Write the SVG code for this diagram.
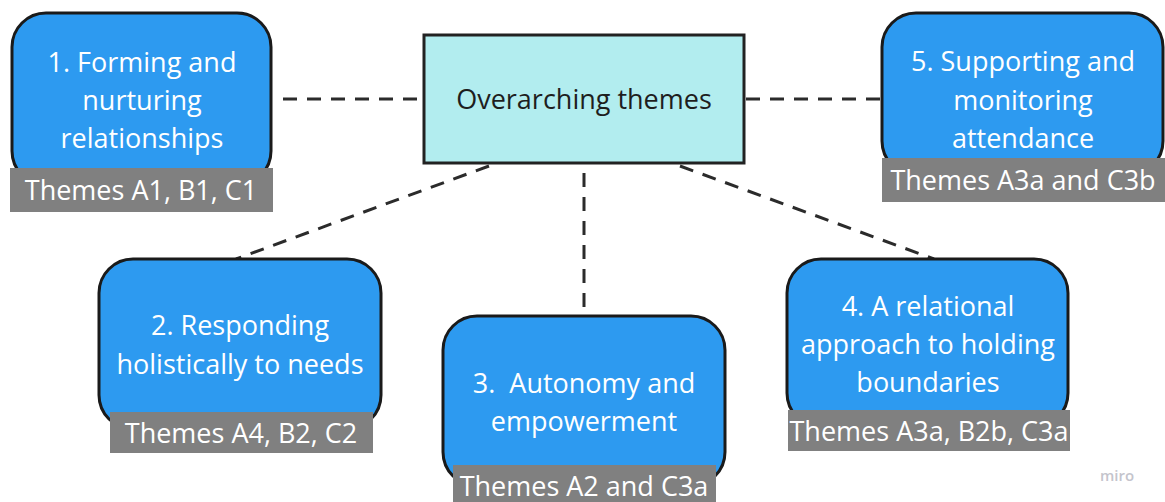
<svg xmlns="http://www.w3.org/2000/svg" width="1165" height="502" viewBox="0 0 1165 502">
  <style>
    .box { fill: #2d9af0; stroke: #1a1a1a; stroke-width: 3; }
    .hub { fill: #b2edef; stroke: #222222; stroke-width: 3; }
    .tag { fill: #808080; }
    .t { font-family: "Open Sans", "Liberation Sans", sans-serif; font-size: 27px; fill: #ffffff; text-anchor: middle; white-space: pre; }
    .hubt { font-family: "Open Sans", "Liberation Sans", sans-serif; font-size: 27px; fill: #1e1e1e; text-anchor: middle; }
    .link { stroke: #2b2b2b; stroke-width: 3; stroke-dasharray: 14 10; fill: none; }
    .mark { font-family: "Open Sans", "Liberation Sans", sans-serif; font-size: 15px; fill: #c4c4cc; font-weight: 600; }
  </style>
  <rect width="1165" height="502" fill="#ffffff"/>

  <g id="connectors">
    <line class="link" x1="283" y1="99" x2="423" y2="99"/>
    <line class="link" x1="746" y1="99" x2="882" y2="99"/>
    <line class="link" x1="489" y1="166" x2="236" y2="259"/>
    <line class="link" x1="584" y1="173" x2="584" y2="316"/>
    <line class="link" x1="680" y1="166" x2="934" y2="259"/>
  </g>

  <g id="hub">
    <rect class="hub" x="424" y="35" width="320" height="128"/>
    <text class="hubt" x="584" y="109">Overarching themes</text>
  </g>

  <g id="node1">
    <rect class="box" x="12" y="13" width="259" height="172" rx="34"/>
    <text class="t" x="142" y="72">1. Forming and</text>
    <text class="t" x="142" y="110">nurturing</text>
    <text class="t" x="142" y="148">relationships</text>
    <rect class="tag" x="10" y="168" width="263" height="44"/>
    <text class="t" x="141" y="200">Themes A1, B1, C1</text>
  </g>

  <g id="node5">
    <rect class="box" x="882" y="13" width="281" height="162" rx="34"/>
    <text class="t" x="1023" y="71">5. Supporting and</text>
    <text class="t" x="1023" y="110">monitoring</text>
    <text class="t" x="1023" y="148">attendance</text>
    <rect class="tag" x="882" y="158" width="283" height="44"/>
    <text class="t" x="1023" y="190">Themes A3a and C3b</text>
  </g>

  <g id="node2">
    <rect class="box" x="99" y="259" width="282" height="170" rx="34"/>
    <text class="t" x="240" y="335">2. Responding</text>
    <text class="t" x="240" y="374">holistically to needs</text>
    <rect class="tag" x="110" y="412" width="263" height="41"/>
    <text class="t" x="241" y="443">Themes A4, B2, C2</text>
  </g>

  <g id="node3">
    <rect class="box" x="443" y="316" width="282" height="170" rx="34"/>
    <text class="t" x="584" y="393" xml:space="preserve">3.  Autonomy and</text>
    <text class="t" x="584" y="431">empowerment</text>
    <rect class="tag" x="453" y="465" width="263" height="40"/>
    <text class="t" x="584" y="496">Themes A2 and C3a</text>
  </g>

  <g id="node4">
    <rect class="box" x="787" y="259" width="281" height="168" rx="34"/>
    <text class="t" x="928" y="316">4. A relational</text>
    <text class="t" x="928" y="354">approach to holding</text>
    <text class="t" x="928" y="392">boundaries</text>
    <rect class="tag" x="788" y="410" width="282" height="41"/>
    <text class="t" x="929" y="441">Themes A3a, B2b, C3a</text>
  </g>

  <text class="mark" x="1100" y="481">miro</text>
</svg>
